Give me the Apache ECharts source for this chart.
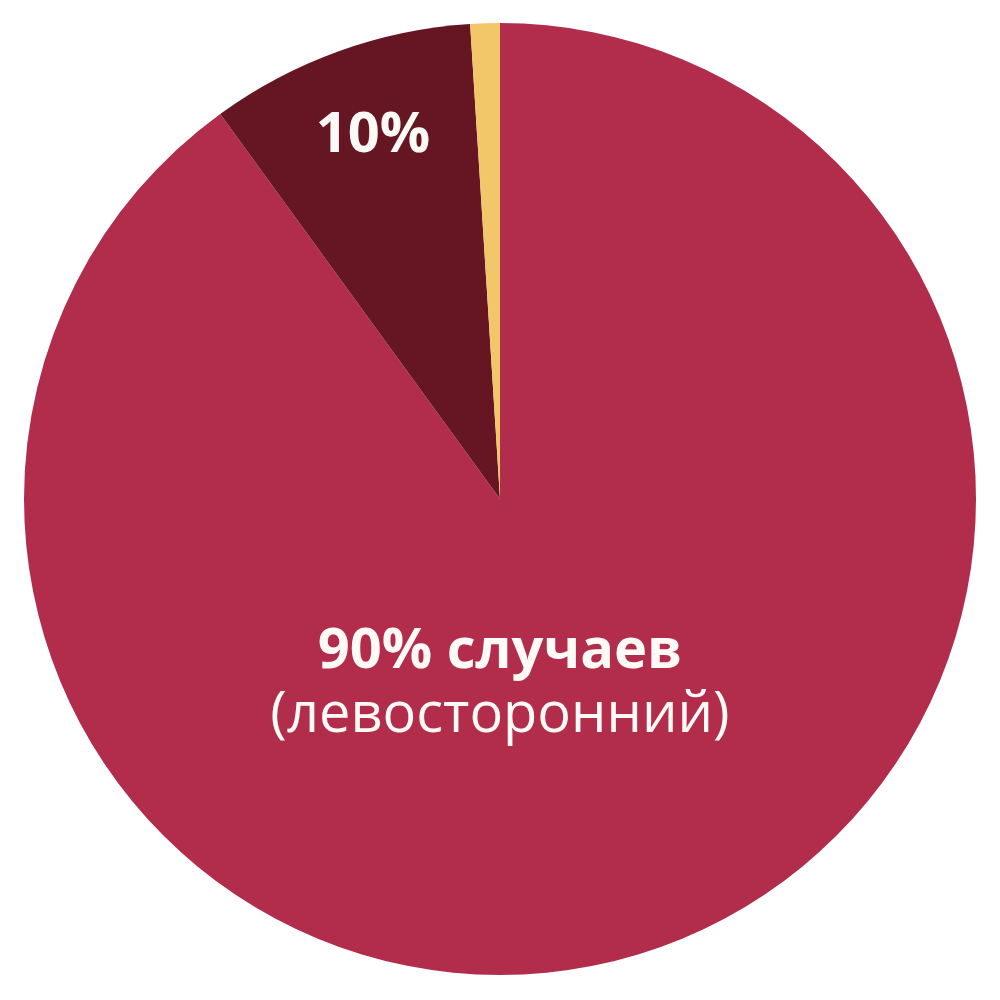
<!DOCTYPE html>
<html><head><meta charset="utf-8">
<script src="https://cdn.jsdelivr.net/npm/echarts@6/dist/echarts.min.js"></script>
<style>html,body{margin:0;padding:0;background:#fff}#c{width:1000px;height:1000px}</style>
</head><body><div id="c"></div>
<script>
var categories = ['левосторонний', 'правосторонний', 'другое'];
var values = [90, 9, 1];
var colors = ['#B22C4C', '#661523', '#F2C76A'];
var bigLabel = ['90% случаев', '(левосторонний)'];
var smallLabel = '10%';

var chart = echarts.init(document.getElementById('c'), null, {renderer: 'canvas'});
chart.setOption({
  animation: false,
  series: [{
    type: 'pie',
    center: [500, 499],
    radius: [0, 476],
    startAngle: 90,
    clockwise: true,
    label: {show: false},
    labelLine: {show: false},
    itemStyle: {borderWidth: 0},
    emphasis: {disabled: true},
    data: categories.map(function (c, i) {
      return {name: c, value: values[i], itemStyle: {color: colors[i]}};
    })
  }],
  graphic: [
    {type: 'text', z: 10, position: [500, 652], silent: true,
     style: {text: bigLabel[0], x: 0, y: 0, align: 'center', verticalAlign: 'middle',
       fill: '#FFFAF6', font: 'bold 56px "Open Sans"'}},
    {type: 'text', z: 10, position: [500, 716], silent: true,
     style: {text: bigLabel[1], x: 0, y: 0, align: 'center', verticalAlign: 'middle',
       fill: '#FFFAF6', font: '56px "Open Sans"'}},
    {type: 'text', z: 10, position: [373, 136], silent: true,
     style: {text: smallLabel, x: 0, y: 0, align: 'center', verticalAlign: 'middle',
       fill: '#FFFAF6', font: 'bold 56px "Open Sans"'}}
  ]
});
</script></body></html>
